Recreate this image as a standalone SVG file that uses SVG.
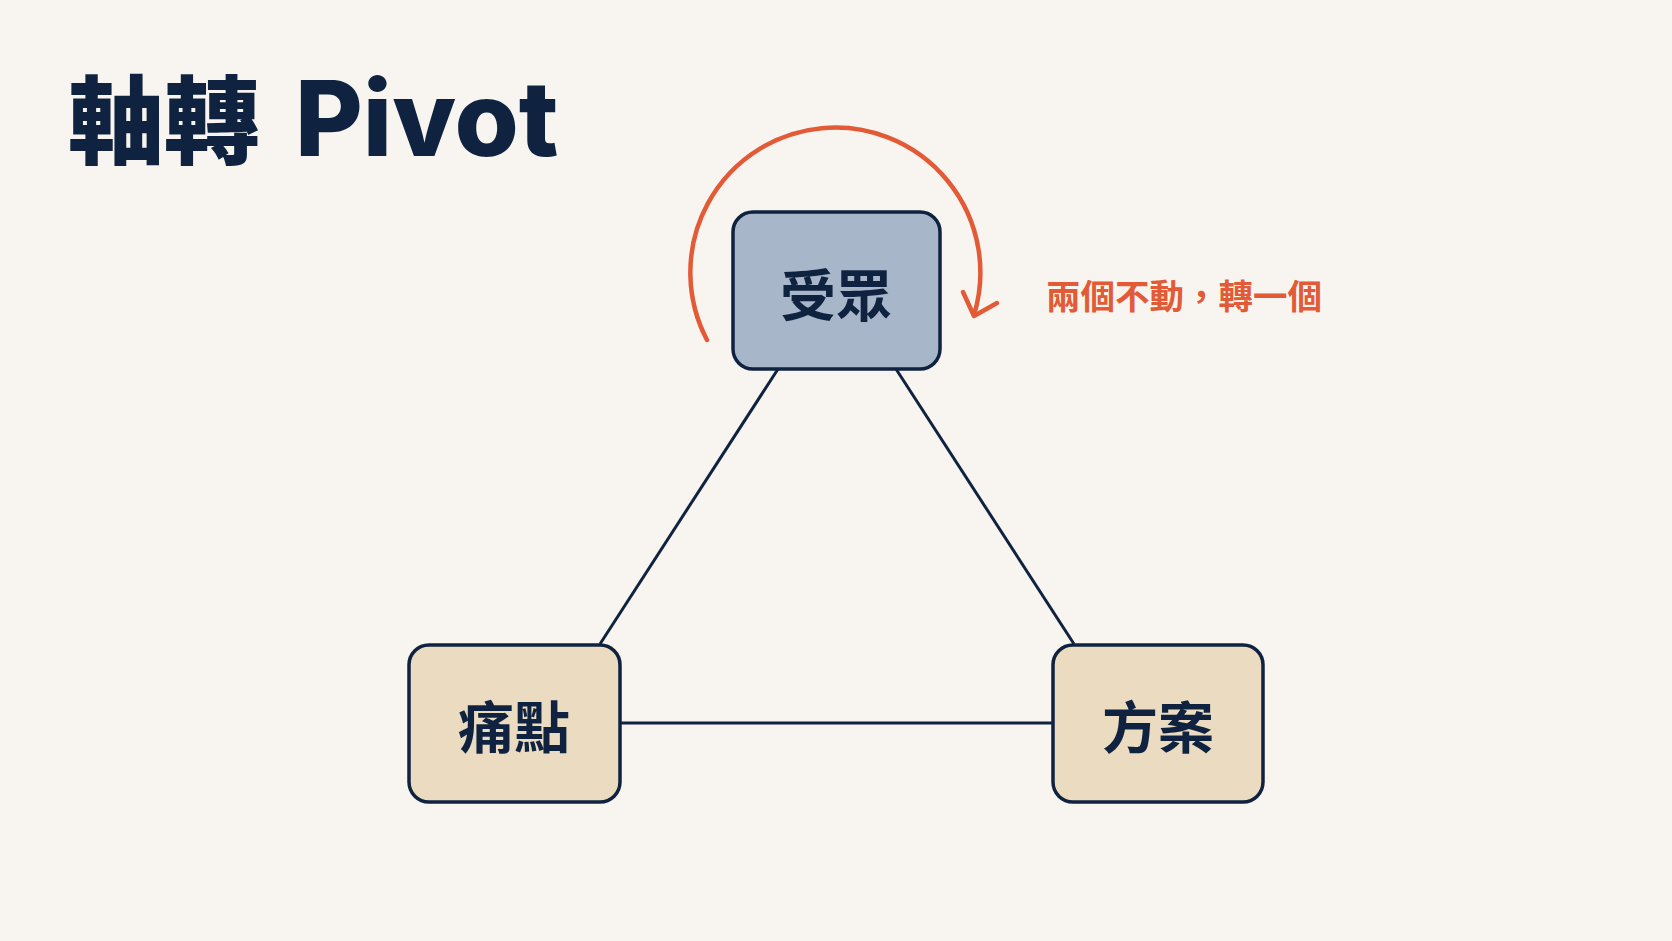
<svg xmlns="http://www.w3.org/2000/svg" width="1672" height="941" viewBox="0 0 1672 941">
<defs>
<style>
.bg{fill:#F8F5F0}
.node rect{stroke:#0F2340;stroke-width:3.5}
.top rect{fill:#A8B6C9}
.bot rect{fill:#EBDBC0}
.node text{font-family:"Noto Sans CJK TC","Noto Sans CJK SC",sans-serif;font-weight:700;font-size:56px;fill:#0F2340;text-anchor:middle}
.conn line{stroke:#0F2340;stroke-width:3}
.orange{fill:none;stroke:#E25B36;stroke-width:4.5;stroke-linecap:round;stroke-linejoin:round}
</style>
</defs>
<rect class="bg" x="0" y="0" width="1672" height="941"/>
<text y="156" font-weight="900" font-size="96" fill="#0F2340"><tspan x="68" font-family="'Noto Sans CJK TC','Noto Sans CJK SC',sans-serif">軸轉</tspan><tspan x="295" font-family="Inter,'Noto Sans',sans-serif" font-weight="800" font-size="104">Pivot</tspan></text>
<g id="connectors" class="conn">
<line x1="778" y1="369" x2="600" y2="644"/>
<line x1="896" y1="369" x2="1074" y2="644"/>
<line x1="621" y1="723" x2="1053" y2="723"/>
</g>
<g id="rotation">
<path class="orange" d="M707 340 A145 145 0 1 1 974 315"/>
<path class="orange" d="M963 292 L974 316 L997 303"/>
<text x="1046" y="309" font-family="'Noto Sans CJK TC','Noto Sans CJK SC',sans-serif" font-weight="700" font-size="34.5" fill="#E25B36">兩個不動，轉一個</text>
</g>
<g id="node-audience" class="node top">
<rect x="733" y="212" width="207" height="157" rx="20"/>
<text x="836" y="316">受眾</text>
</g>
<g id="node-pain" class="node bot">
<rect x="409" y="645" width="211" height="157" rx="20"/>
<text x="514" y="748">痛點</text>
</g>
<g id="node-solution" class="node bot">
<rect x="1053" y="645" width="210" height="157" rx="20"/>
<text x="1158" y="748">方案</text>
</g>
</svg>
